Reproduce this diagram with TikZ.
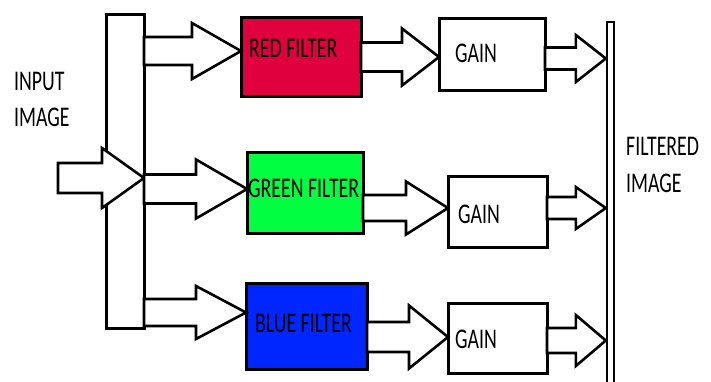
\documentclass[tikz,border=0pt]{standalone}
\usepackage{fontspec}
\setmainfont{Carlito}
\usetikzlibrary{calc}
\definecolor{redf}{RGB}{224,0,62}
\definecolor{greenf}{RGB}{0,255,64}
\definecolor{bluef}{RGB}{0,38,255}
\tikzset{
  box/.style={draw=black, line width=3pt, rectangle, inner sep=0pt, outer sep=0pt},
  arrowline/.style={draw=black, fill=white, line width=2.6pt, line join=miter},
  lbl/.style={inner sep=0pt, anchor=base west, font=\fontsize{28.5}{30}\selectfont, text=black},
}
% #1 start anchor, #2 tip anchor, #3 y (px), #4 shaft half width, #5 head half width, #6 head length
\newcommand\blkarrow[6]{%
  \draw[arrowline] let \p1=(#1), \p2=(#2), \p3=(0,#3) in
    (\x1,{\y3+#4pt}) -- ({\x2-#6pt},{\y3+#4pt}) -- ({\x2-#6pt},{\y3+#5pt}) --
    (\x2,\y3) -- ({\x2-#6pt},{\y3-#5pt}) -- ({\x2-#6pt},{\y3-#4pt}) -- (\x1,{\y3-#4pt}) -- cycle;
}
\newcommand\sq[1]{\scalebox{0.695}[1]{#1}}
\begin{document}
\begin{tikzpicture}[x=1pt,y=-1pt]
\useasboundingbox (0,0) rectangle (711,381);
% boxes
\node[box, minimum width=38pt, minimum height=314pt] (split) at (125,171) {};
\node[box, fill=redf, minimum width=120pt, minimum height=79pt] (red) at (301,56.5) {};
\node[box, fill=greenf, minimum width=116pt, minimum height=81pt] (green) at (305,192.5) {};
\node[box, fill=bluef, minimum width=121pt, minimum height=86pt] (blue) at (306.5,326) {};
\node[box, minimum width=106pt, minimum height=72pt] (gain1) at (492,54) {};
\node[box, minimum width=99pt, minimum height=71pt] (gain2) at (497.5,211.5) {};
\node[box, minimum width=99pt, minimum height=70pt] (gain3) at (497.5,338) {};
\node[draw=black, line width=2.4pt, rectangle, inner sep=0pt, minimum width=7pt, minimum height=372pt] (out) at (610.5,208) {};
\coordinate (inl) at (58,178);
% block arrows
\blkarrow{inl}{split.east}{178}{15}{30}{42}
\blkarrow{split.east}{red.west}{51}{14}{28}{49}
\blkarrow{split.east}{green.west}{189}{14.5}{29.5}{51}
\blkarrow{split.east}{blue.west}{312.5}{13.5}{26.5}{50}
\blkarrow{red.east}{gain1.west}{57}{14.5}{28.5}{37}
\blkarrow{green.east}{gain2.west}{208}{13}{26.5}{42}
\blkarrow{blue.east}{gain3.west}{337}{15}{31.5}{39}
\blkarrow{gain1.east}{out.west}{58.5}{11}{23.5}{30}
\blkarrow{gain2.east}{out.west}{208}{11}{21}{30}
\blkarrow{gain3.east}{out.west}{340.5}{12.5}{25.5}{30}
% labels
\node[lbl] (in1) at (14,90) {\sq{INPUT}};
\node[lbl] (in2) at (14,126) {\sq{IMAGE}};
\node[lbl] (redt) at (249,57) {\sq{RED FILTER}};
\node[lbl] (greent) at (248,197) {\sq{GREEN FILTER}};
\node[lbl] (bluet) at (255,332) {\sq{BLUE FILTER}};
\node[lbl] (g1t) at (455,62) {\sq{GAIN}};
\node[lbl] (g2t) at (458,223) {\sq{GAIN}};
\node[lbl] (g3t) at (455,348) {\sq{GAIN}};
\node[lbl] (o1) at (626,155) {\sq{FILTERED}};
\node[lbl] (o2) at (626,192) {\sq{IMAGE}};
\end{tikzpicture}
\end{document}
